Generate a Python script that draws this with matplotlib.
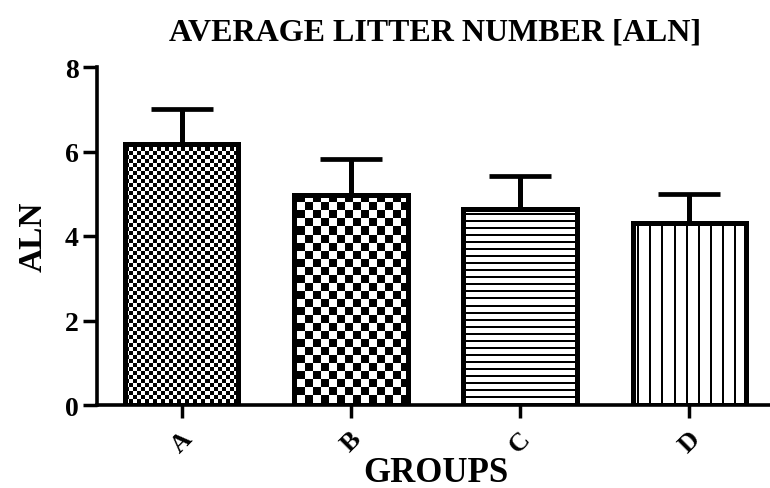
import numpy as np
import matplotlib
matplotlib.use("Agg")
import matplotlib.pyplot as plt
from matplotlib.transforms import ScaledTranslation

groups = ["A", "B", "C", "D"]
aln_mean = [6.17, 4.98, 4.64, 4.31]
aln_err = [0.83, 0.84, 0.78, 0.68]
yticks = [0, 2, 4, 6, 8]

plt.rcParams['font.family'] = ['Liberation Serif', 'DejaVu Serif']
plt.rcParams['font.weight'] = 'bold'

W, H = 770, 489
fig = plt.figure(figsize=(W / 100, H / 100), dpi=100)
ax = fig.add_axes([97 / W, 1 - 406 / H, 677 / W, 338 / H])

x = np.arange(len(groups))
xlim = (-0.5, 3.5)
ylim = (0, 8)
ax.set_xlim(*xlim)
ax.set_ylim(*ylim)

bw = 0.67
face = ax.bar(x, aln_mean, width=bw, color='white', edgecolor='none', zorder=1)

# fill patterns: image over whole axes, clipped to each bar
ncol_px, nrow_px = 677, 338
cols = np.arange(ncol_px)[None, :]
rows = np.arange(nrow_px)[:, None]
patterns = [
    ((cols // 4) + (rows // 4)) % 2,             # fine checker
    ((cols // 8) + (rows // 8)) % 2,             # coarse checker
    ((rows % 7) < 2).astype(int) + 0 * cols,     # horizontal lines
    ((cols % 12) < 2).astype(int) + 0 * rows,    # vertical lines
]
for patch, pat in zip(face.patches, patterns):
    img = ax.imshow(1 - pat, cmap='gray', vmin=0, vmax=1, extent=(*xlim, *ylim),
                    aspect='auto', interpolation='nearest', origin='upper', zorder=2)
    img.set_clip_path(patch)

ax.bar(x, aln_mean, width=bw, facecolor='none', edgecolor='black', linewidth=3.6, zorder=3)
eb = ax.errorbar(x, aln_mean, yerr=[[0] * len(x), aln_err], fmt='none', ecolor='black',
                 elinewidth=3.6, capsize=22, capthick=3.4, zorder=2.5)
for line in eb.lines[1]:
    line.set_solid_capstyle('round')

ax.set_xlim(*xlim)
ax.set_ylim(*ylim)
ax.set_aspect('auto')

for s in ['top', 'right']:
    ax.spines[s].set_visible(False)
for s in ['left', 'bottom']:
    ax.spines[s].set_linewidth(2.6)
ax.spines['bottom'].set_zorder(4)

ax.set_yticks(yticks)
ax.set_yticklabels([str(v) for v in yticks], fontsize=20, fontweight='bold')
ax.set_xticks(x)
ax.set_xticklabels(groups, fontsize=19, fontweight='bold', rotation=45, ha='center')
offset = ScaledTranslation(-6 / 100, 0, fig.dpi_scale_trans)
for lab in ax.get_xticklabels():
    lab.set_transform(lab.get_transform() + offset)
ax.tick_params(axis='y', length=10, width=2.5, pad=3)
ax.tick_params(axis='x', length=9, width=2.5, pad=7)

ax.set_ylabel("ALN", fontsize=24, fontweight='bold', labelpad=12)
ax.set_xlabel("GROUPS", fontsize=25, fontweight='bold', labelpad=-1)
ax.set_title("AVERAGE LITTER NUMBER [ALN]", fontsize=23, fontweight='bold', pad=20)

fig.savefig("out.png", dpi=100)
